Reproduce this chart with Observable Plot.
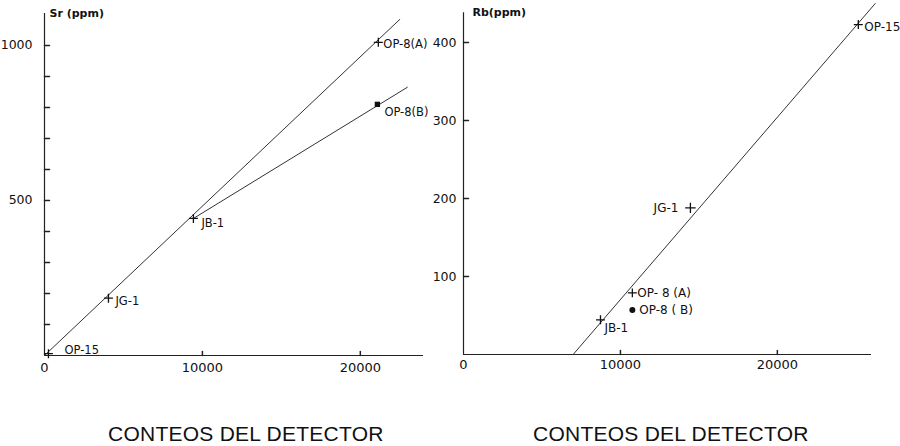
<!DOCTYPE html>
<html>
<head>
<meta charset="utf-8">
<script src="https://cdn.jsdelivr.net/npm/d3@7"></script>
<script src="https://cdn.jsdelivr.net/npm/@observablehq/plot@0.6"></script>
<style>
  html, body { margin: 0; padding: 0; background: #fff; }
  #wrap { position: relative; width: 900px; height: 446px; overflow: hidden; background: #fff; }
  #left { position: absolute; left: 0; top: 0; }
  #right { position: absolute; left: 420px; top: 0; }
  .cap { position: absolute; top: 423px; font-family: "Liberation Sans", Arial, sans-serif; font-size: 21px; line-height: 21px; letter-spacing: 0.25px; color: #111; white-space: nowrap; }
  svg { overflow: visible; }
</style>
</head>
<body>
<div id="wrap">
  <div id="left"></div>
  <div id="right"></div>
  <div class="cap" style="left:108px">CONTEOS DEL DETECTOR</div>
  <div class="cap" style="left:533px">CONTEOS DEL DETECTOR</div>
</div>
<script>
// ---- Left panel: Sr ----
const srNames  = ["OP-15", "JG-1", "JB-1", "OP-8(A)", "OP-8(B)"];
const srCounts = [250, 4050, 9430, 21140, 21080];
const srValues = [6, 185, 442, 1010, 810];
const srLineAX = [0, 22500];
const srLineAY = [0, 1084];
const srLineBX = [9430, 22975];
const srLineBY = [442, 865];
const srYLabelTicks = [500, 1000];
const srYMinorTicks = [100, 200, 300, 400, 500, 600, 700, 800, 900, 1000];
const srXTicks = [0, 10000, 20000];
const srXMarks = [10000, 20000];
const srYTop = 1103;
const srXMax = 24000;

// ---- Right panel: Rb ----
const rbNames  = ["OP-15", "JG-1", "OP- 8 (A)", "OP-8 ( B)", "JB-1"];
const rbCounts = [25160, 14460, 10760, 10760, 8730];
const rbValues = [423, 188, 79, 57, 44.5];
const rbLineX = [6987, 26240];
const rbLineY = [0, 450];
const rbYTicks = [100, 200, 300, 400];
const rbXTicks = [0, 10000, 20000];
const rbXMarks = [10000, 20000];
const rbYTop = 438;
const rbXMax = 26000;

const FONT = "DejaVu Sans, sans-serif";
const tickShape = { draw(ctx, l) { ctx.moveTo(0, 0); ctx.lineTo(0, -l); } };

const srData = srNames.map((n, i) => ({name: n, x: srCounts[i], y: srValues[i]}));
const rbData = rbNames.map((n, i) => ({name: n, x: rbCounts[i], y: rbValues[i]}));
const pairs = (xs, ys) => xs.map((x, i) => ({x, y: ys[i]}));

// label offsets (styling)
const srOff = {"OP-15": [16, -3, "start"], "JG-1": [7, 3, "start"], "JB-1": [8, 5, "start"], "OP-8(A)": [5, 2, "start"], "OP-8(B)": [7, 8, "start"]};
const rbOff = {"OP-15": [6, 3, "start"], "JG-1": [-12, 0, "end"], "OP- 8 (A)": [5, 0, "start"], "OP-8 ( B)": [7, 0, "start"], "JB-1": [4, 8, "start"]};

const left = Plot.plot({
  width: 450, height: 400,
  marginLeft: 44, marginRight: 27, marginTop: 13, marginBottom: 45,
  x: {domain: [0, srXMax]},
  y: {domain: [0, srYTop]},
  style: {fontFamily: FONT, color: "#111", background: "transparent"},
  marks: [
    Plot.ruleX([0], {stroke: "#222", strokeWidth: 1.2}),
    Plot.ruleY([0], {stroke: "#222", strokeWidth: 1.2}),
    Plot.vector(srYMinorTicks, {x: 0, y: d => d, length: 5, rotate: 90, anchor: "start", shape: tickShape, stroke: "#222"}),
    Plot.vector(srXMarks, {x: d => d, y: 0, length: 4, rotate: 0, anchor: "start", shape: tickShape, stroke: "#222"}),
    Plot.axisY({ticks: srYLabelTicks, tickSize: 0, tickPadding: 12, fontSize: 12.5, tickFormat: d3.format("d"), label: null}),
    Plot.axisX({ticks: srXTicks, tickSize: 0, tickPadding: 7, fontSize: 13, tickFormat: d3.format("d"), label: null}),
    Plot.line(pairs(srLineAX, srLineAY), {x: "x", y: "y", stroke: "#333", strokeWidth: 1}),
    Plot.line(pairs(srLineBX, srLineBY), {x: "x", y: "y", stroke: "#333", strokeWidth: 1}),
    Plot.dot(srData.filter(d => d.name !== "OP-8(B)"), {x: "x", y: "y", symbol: "plus", r: 3, stroke: "#111", strokeWidth: 1.3}),
    Plot.dot(srData.filter(d => d.name === "OP-8(B)"), {x: "x", y: "y", symbol: "square", r: 3, fill: "#111"}),
    ...srData.map(d => Plot.text([d], {x: "x", y: "y", text: "name", dx: srOff[d.name][0], dy: srOff[d.name][1], textAnchor: srOff[d.name][2], fontSize: 11.5, fill: "#111"})),
    Plot.text([{t: "Sr (ppm)", x: 0, y: srYTop}], {x: "x", y: "y", text: "t", dx: 5, dy: 0, lineAnchor: "middle", fontSize: 11, fontWeight: "bold", textAnchor: "start", fill: "#111"})
  ]
});
document.getElementById("left").append(left);

const right = Plot.plot({
  width: 480, height: 400,
  marginLeft: 43, marginRight: 29, marginTop: 3, marginBottom: 46,
  x: {domain: [0, rbXMax]},
  y: {domain: [0, 450]},
  style: {fontFamily: FONT, color: "#111", background: "transparent"},
  marks: [
    Plot.ruleX([0], {y1: 0, y2: rbYTop, stroke: "#222", strokeWidth: 1.2}),
    Plot.ruleY([0], {stroke: "#222", strokeWidth: 1.2}),
    Plot.vector(rbYTicks, {x: 0, y: d => d, length: 5, rotate: 90, anchor: "start", shape: tickShape, stroke: "#222"}),
    Plot.vector(rbXMarks, {x: d => d, y: 0, length: 4, rotate: 0, anchor: "start", shape: tickShape, stroke: "#222"}),
    Plot.axisY({ticks: rbYTicks, tickSize: 0, tickPadding: 7, fontSize: 12.5, tickFormat: d3.format("d"), label: null}),
    Plot.axisX({ticks: rbXTicks, tickSize: 0, tickPadding: 5, fontSize: 13, tickFormat: d3.format("d"), label: null}),
    Plot.line(pairs(rbLineX, rbLineY), {x: "x", y: "y", stroke: "#333", strokeWidth: 1}),
    Plot.dot(rbData.filter(d => d.name !== "OP-8 ( B)"), {x: "x", y: "y", symbol: "plus", r: d => d.name === "JG-1" ? 4 : 3, stroke: "#111", strokeWidth: 1.3}),
    Plot.dot(rbData.filter(d => d.name === "OP-8 ( B)"), {x: "x", y: "y", symbol: "circle", r: 3, fill: "#111"}),
    ...rbData.map(d => Plot.text([d], {x: "x", y: "y", text: "name", dx: rbOff[d.name][0], dy: rbOff[d.name][1], textAnchor: rbOff[d.name][2], fontSize: 12, fill: "#111"})),
    Plot.text([{t: "Rb(ppm)", x: 0, y: rbYTop}], {x: "x", y: "y", text: "t", dx: 9, dy: 0, lineAnchor: "middle", fontSize: 11, fontWeight: "bold", textAnchor: "start", fill: "#111"})
  ]
});
document.getElementById("right").append(right);
</script>
</body>
</html>
